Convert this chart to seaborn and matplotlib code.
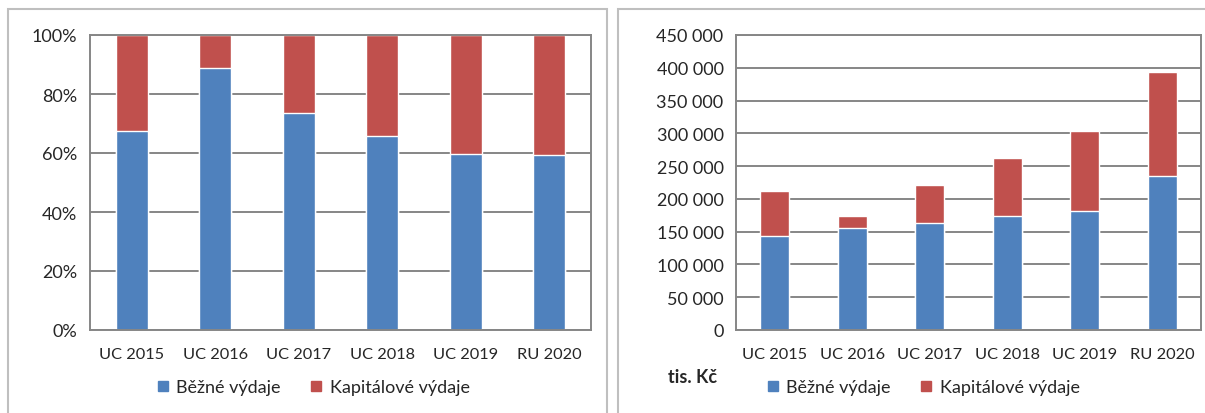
import matplotlib
matplotlib.use("Agg")
import matplotlib.pyplot as plt
from matplotlib.lines import Line2D
from matplotlib.patches import Rectangle
from matplotlib.ticker import FuncFormatter
import pandas as pd
import seaborn as sns

roky = ["UC 2015", "UC 2016", "UC 2017", "UC 2018", "UC 2019", "RU 2020"]

# podil v %
bezne_pct = [67.3, 88.9, 73.6, 65.7, 59.7, 59.3]
kapital_pct = [32.7, 11.1, 26.4, 34.3, 40.3, 40.7]

# tis. Kc
bezne_abs = [143500, 155600, 163100, 173200, 181800, 234800]
kapital_abs = [69000, 18600, 58100, 89400, 121200, 159100]

legenda = ["Běžné výdaje", "Kapitálové výdaje"]
modra = "#4F81BD"
cervena = "#C0504D"
seda = "#868686"

sns.set_style("white")
plt.rcParams["font.family"] = ["Lato", "DejaVu Sans"]


def sloupce(ax, bezne, kapital):
    df = pd.DataFrame({"rok": roky, "bezne": bezne, "kapital": kapital})
    df["celkem"] = df["bezne"] + df["kapital"]
    # nejdriv cely sloupec (cervena), pres nej bezne vydaje (modra)
    sns.barplot(data=df, x="rok", y="celkem", color=cervena, saturation=1,
                width=0.38, edgecolor="white", linewidth=1, errorbar=None, ax=ax)
    sns.barplot(data=df, x="rok", y="bezne", color=modra, saturation=1,
                width=0.38, edgecolor="white", linewidth=1, errorbar=None, ax=ax)
    ax.set_xlabel("")
    ax.set_ylabel("")
    ax.set_axisbelow(True)
    ax.yaxis.grid(True, color=seda, linewidth=1.4)
    for s in ax.spines.values():
        s.set_visible(True)
        s.set_color(seda)
        s.set_linewidth(1.4)
    ax.tick_params(axis="y", length=5, width=1.4, color=seda, labelsize=13, pad=4)
    ax.tick_params(axis="x", length=0, labelsize=11.8, pad=12)


def legenda_pod(fig, x):
    h = [Line2D([], [], marker="s", linestyle="", markersize=6.5, color=c)
         for c in (modra, cervena)]
    fig.legend(h, legenda, loc="center", bbox_to_anchor=(x, 0.063),
               ncol=2, frameon=False, fontsize=13, handlelength=0.7,
               handletextpad=0.4, columnspacing=1.6)


fig = plt.figure(figsize=(12.05, 4.14), dpi=100)

# ramecky obou grafu
for x0, x1 in [(8, 607), (618, 1210)]:
    fig.patches.append(Rectangle((x0 / 1205, -0.05), (x1 - x0) / 1205, 1.05 - 10 / 414,
                                 transform=fig.transFigure, fill=False,
                                 edgecolor="#BFBFBF", linewidth=1.5))

ax1 = fig.add_axes([90 / 1205, 1 - 331 / 414, (591 - 90) / 1205, (331 - 36) / 414])
sloupce(ax1, bezne_pct, kapital_pct)
ax1.set_ylim(0, 100)
ax1.set_yticks(range(0, 101, 20))
ax1.yaxis.set_major_formatter(FuncFormatter(lambda v, p: f"{v:.0f}%"))
legenda_pod(fig, 313 / 1205)

ax2 = fig.add_axes([736 / 1205, 1 - 331 / 414, (1201 - 736) / 1205, (331 - 36) / 414])
sloupce(ax2, bezne_abs, kapital_abs)
ax2.set_ylim(0, 450000)
ax2.set_yticks(range(0, 450001, 50000))
ax2.yaxis.set_major_formatter(FuncFormatter(lambda v, p: f"{v:,.0f}".replace(",", " ")))
legenda_pod(fig, 923 / 1205)

fig.text(693 / 1205, 1 - 378 / 414, "tis. Kč", fontsize=13, fontweight="bold",
         ha="center", va="center")

fig.savefig("out.png", dpi=100)
